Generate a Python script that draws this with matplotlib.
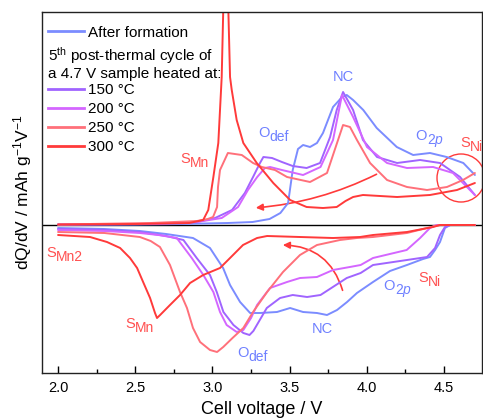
import matplotlib
matplotlib.use("Agg")
import matplotlib.pyplot as plt
from matplotlib.lines import Line2D
from matplotlib.patches import FancyArrowPatch, Ellipse
from matplotlib.ticker import MultipleLocator, FormatStrFormatter

plt.rcParams["font.family"] = ["Liberation Sans", "DejaVu Sans"]
plt.rcParams["mathtext.fontset"] = "custom"
plt.rcParams["mathtext.rm"] = "Liberation Sans"
plt.rcParams["mathtext.it"] = "Liberation Sans:italic"
plt.rcParams["mathtext.bf"] = "Liberation Sans:bold"
plt.rcParams["mathtext.default"] = "regular"

# ---- dQ/dV curves (voltage in V, dQ/dV in arbitrary units) ----
# After formation
fresh_chg_v = [2.00, 2.50, 2.80, 3.10, 3.26, 3.37, 3.44, 3.49, 3.52, 3.554, 3.587, 3.632,
               3.677, 3.716, 3.781, 3.84, 3.87, 3.911, 3.977, 4.064, 4.194, 4.30, 4.409,
               4.517, 4.625, 4.70]
fresh_chg_q = [0.5, 0.5, 1, 2, 3, 6, 12, 22, 55, 76, 80, 78, 82, 92, 118, 128, 130, 125,
               115, 97, 78, 70, 72, 68, 62, 50]
fresh_dis_v = [2.00, 2.30, 2.53, 2.70, 2.874, 2.984, 3.069, 3.114, 3.179, 3.244, 3.308,
               3.418, 3.503, 3.587, 3.677, 3.742, 3.807, 3.872, 3.936, 4.04, 4.15, 4.26,
               4.364, 4.409, 4.442, 4.474, 4.506, 4.54, 4.70]
fresh_dis_q = [-3, -4, -6, -9, -13, -23, -43, -60, -77, -88, -88, -87, -83, -87, -88, -90,
               -85, -77, -68, -57, -46, -40, -34, -32, -25, -17, -3, 0, 0]

# 150 °C
t150_chg_v = [2.00, 2.60, 2.90, 3.017, 3.127, 3.21, 3.263, 3.308, 3.33, 3.386, 3.45, 3.52,
              3.61, 3.697, 3.762, 3.805, 3.846, 3.911, 3.975, 4.066, 4.196, 4.345, 4.474,
              4.604, 4.70]
t150_chg_q = [0.5, 1, 3, 7, 15, 32, 48, 62, 68, 67, 63, 59, 57, 62, 88, 115, 133, 115, 85,
              68, 62, 65, 62, 48, 30]
t150_dis_v = [2.00, 2.30, 2.53, 2.70, 2.812, 2.898, 2.984, 3.028, 3.071, 3.136, 3.20, 3.24,
              3.265, 3.352, 3.438, 3.52, 3.613, 3.70, 3.78, 3.87, 3.96, 4.04, 4.26, 4.39,
              4.442, 4.474, 4.506, 4.54, 4.70]
t150_dis_q = [-4, -5, -7, -11, -15, -33, -50, -67, -87, -100, -108, -110, -106, -83, -73,
              -70, -72, -70, -62, -53, -48, -40, -35, -32, -23, -10, -2, 0, 0]

# 200 °C
t200_chg_v = [2.00, 2.60, 2.90, 3.06, 3.166, 3.23, 3.29, 3.34, 3.373, 3.45, 3.587, 3.70,
              3.781, 3.839, 3.911, 4.001, 4.131, 4.26, 4.429, 4.558, 4.70]
t200_chg_q = [0.5, 1, 3, 7, 18, 35, 48, 57, 58, 55, 50, 58, 85, 130, 108, 78, 62, 57, 58,
              52, 30]
t200_dis_v = [2.00, 2.30, 2.53, 2.65, 2.769, 2.866, 2.941, 3.006, 3.049, 3.092, 3.157, 3.20,
              3.25, 3.289, 3.373, 3.483, 3.567, 3.677, 3.781, 3.89, 3.96, 4.04, 4.258,
              4.345, 4.409, 4.45, 4.70]
t200_dis_q = [-5, -6, -8, -10, -13, -33, -50, -67, -87, -100, -107, -105, -93, -80, -63,
              -57, -53, -52, -45, -42, -40, -33, -25, -13, -3, 0, 0]

# 250 °C
t250_chg_v = [2.00, 2.60, 2.90, 2.97, 3.004, 3.03, 3.036, 3.049, 3.10, 3.19, 3.263, 3.32,
              3.405, 3.483, 3.632, 3.742, 3.807, 3.846, 3.891, 3.936, 4.021, 4.131, 4.26,
              4.39, 4.519, 4.623, 4.70]
t250_chg_q = [0.5, 2, 4, 6, 8, 18, 38, 55, 72, 70, 62, 58, 55, 48, 43, 52, 82, 100, 98, 85,
              62, 45, 38, 35, 38, 45, 52]
t250_dis_v = [2.00, 2.30, 2.53, 2.60, 2.66, 2.725, 2.79, 2.835, 2.874, 2.92, 2.984, 3.03,
              3.07, 3.13, 3.20, 3.263, 3.354, 3.457, 3.567, 3.677, 3.826, 3.936, 4.04, 4.26,
              4.39, 4.47, 4.70]
t250_dis_q = [-7, -8, -12, -16, -22, -40, -67, -83, -103, -117, -125, -127, -122, -113,
              -103, -87, -67, -47, -30, -20, -15, -13, -12, -8, -3, 0, 0]

# 300 °C
t300_chg_v = [2.00, 2.50, 2.85, 2.94, 2.973, 3.006, 3.038, 3.06, 3.07, 3.085, 3.103, 3.114,
              3.125, 3.157, 3.20, 3.287, 3.394, 3.503, 3.61, 3.716, 3.805, 3.862, 3.911,
              3.975, 4.196, 4.409, 4.584, 4.70]
t300_chg_q = [0.5, 1, 2, 5, 15, 48, 82, 148, 215, 330, 215, 148, 135, 105, 82, 62, 42, 25,
              18, 17, 18, 24, 28, 30, 28, 30, 35, 42]
t300_dis_v = [2.00, 2.207, 2.317, 2.402, 2.466, 2.512, 2.551, 2.596, 2.628, 2.641, 2.661,
              2.725, 2.79, 2.855, 2.94, 3.049, 3.114, 3.198, 3.289, 3.354, 3.567, 3.781,
              3.956, 4.04, 4.26, 4.429, 4.474, 4.70]
t300_dis_q = [-10, -12, -17, -23, -33, -43, -57, -73, -88, -93, -90, -80, -70, -58, -50,
              -43, -33, -20, -13, -11, -12, -13, -12, -10, -7, -2, 0, 0]

series_labels = ["After formation", "150 °C", "200 °C", "250 °C", "300 °C"]
series_colors = ["#7b8cff", "#a064ff", "#d466ff", "#ff707a", "#ff3a3a"]

curves = [
    (fresh_chg_v, fresh_chg_q, fresh_dis_v, fresh_dis_q),
    (t150_chg_v, t150_chg_q, t150_dis_v, t150_dis_q),
    (t200_chg_v, t200_chg_q, t200_dis_v, t200_dis_q),
    (t250_chg_v, t250_chg_q, t250_dis_v, t250_dis_q),
    (t300_chg_v, t300_chg_q, t300_dis_v, t300_dis_q),
]

BLUE_TXT = "#6f80ff"
RED_TXT = "#ff5050"

fig = plt.figure(figsize=(4.83, 4.20), dpi=100)
ax = fig.add_axes([42 / 483, 47 / 420, 440 / 483, 361 / 420])

handles = []
for (cv, cq, dv, dq), col, lab in zip(curves, series_colors, series_labels):
    ax.plot(cv, cq, color=col, lw=1.4, solid_capstyle="round")
    ax.plot(dv, dq, color=col, lw=1.4, solid_capstyle="round")
    handles.append(Line2D([], [], color=col, lw=2.0, label=lab))

ax.axhline(0, color="black", lw=1.0, zorder=0)

ax.set_xlim(1.896, 4.746)
ax.set_ylim(-148, 213)
ax.xaxis.set_major_locator(MultipleLocator(0.5))
ax.xaxis.set_minor_locator(MultipleLocator(0.25))
ax.xaxis.set_major_formatter(FormatStrFormatter("%.1f"))
ax.tick_params(axis="x", which="major", direction="in", length=5, width=1.0,
               labelsize=10.5, pad=6, top=False)
ax.tick_params(axis="x", which="minor", direction="in", length=3, width=1.0, top=False)
ax.tick_params(axis="y", which="both", left=False, labelleft=False)
for sp in ax.spines.values():
    sp.set_linewidth(1.0)
    sp.set_color("#222222")

ax.set_xlabel("Cell voltage / V", fontsize=13, labelpad=4)
ax.set_ylabel("dQ/dV / mAh g$^{-1}$V$^{-1}$", fontsize=12.5, labelpad=6)

# legend: reference curve, header text, then the heat-treated series
leg_kw = dict(loc="upper left", frameon=False, fontsize=11, handlelength=2.36,
              handletextpad=0.26, borderpad=0, borderaxespad=0)
leg1 = ax.legend(handles=handles[:1], bbox_to_anchor=(0.013, 0.9626), **leg_kw)
ax.add_artist(leg1)
ax.text(0.013, 0.880, "5$^{th}$ post-thermal cycle of", transform=ax.transAxes,
        fontsize=11, va="center", ha="left")
ax.text(0.013, 0.827, "a 4.7 V sample heated at:", transform=ax.transAxes,
        fontsize=11, va="center", ha="left")
ax.legend(handles=handles[1:], bbox_to_anchor=(0.013, 0.802), labelspacing=0.32, **leg_kw)


def peak_label(x, y, main, sub, color):
    """Peak assignment: letter with a near full-size lowered subscript."""
    t = ax.text(x, y, main, color=color, fontsize=10.5, ha="left", va="baseline")
    if sub:
        ax.annotate(sub, xy=(1, 0), xycoords=t, xytext=(0.3, -0.8),
                    textcoords="offset points", color=color, fontsize=10,
                    ha="left", va="baseline", annotation_clip=False)


# charge branch assignments
ax.text(3.846, 148, "NC", color=BLUE_TXT, fontsize=10.5, ha="center", va="center")
peak_label(3.295, 88, "O", "def", BLUE_TXT)
peak_label(4.312, 85, "O", "2$\\mathit{p}$", BLUE_TXT)
peak_label(4.604, 78, "S", "Ni", RED_TXT)
peak_label(2.79, 62, "S", "Mn", RED_TXT)
# discharge branch assignments
peak_label(1.922, -32, "S", "Mn2", RED_TXT)
peak_label(2.434, -103, "S", "Mn", RED_TXT)
peak_label(3.159, -132, "O", "def", BLUE_TXT)
ax.text(3.71, -104, "NC", color=BLUE_TXT, fontsize=10.5, ha="center", va="center")
peak_label(4.105, -65, "O", "2$\\mathit{p}$", BLUE_TXT)
peak_label(4.332, -57, "S", "Ni", RED_TXT)

# direction arrows and highlighted region
arrow_col = "#ff3a3a"
ax.add_patch(FancyArrowPatch((4.079, 52), (3.263, 17), connectionstyle="arc3,rad=-0.1",
                             arrowstyle="-|>", mutation_scale=10, lw=1.2, color=arrow_col))
ax.add_patch(FancyArrowPatch((3.848, -68), (3.438, -20), connectionstyle="arc3,rad=0.38",
                             arrowstyle="-|>", mutation_scale=10, lw=1.2, color=arrow_col))
ax.add_patch(Ellipse((4.61, 47), width=2 * 24 / 154.4, height=48, fill=False,
                     edgecolor=arrow_col, lw=1.0))

fig.savefig("out.png", dpi=100)
